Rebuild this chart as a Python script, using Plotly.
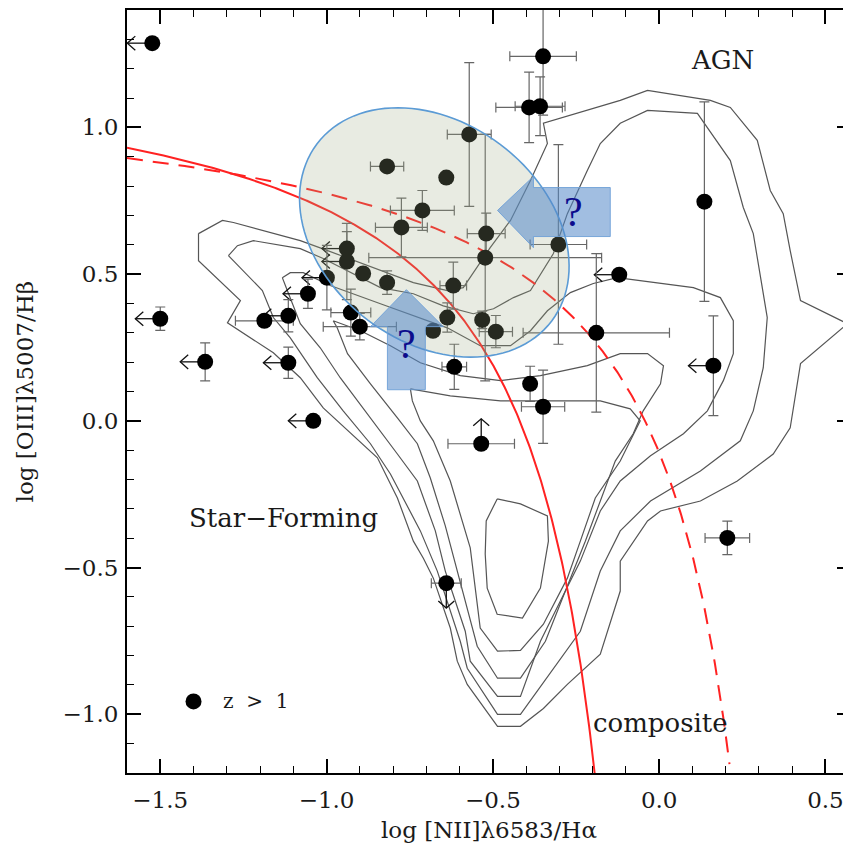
import numpy as np
import plotly.graph_objects as go

# ---------------- data ----------------
gal_x = [-1.524, -1.500, -1.365, -1.187, -1.115, -1.115, -1.040, -1.056, -0.999, -0.939,
         -0.939, -0.890, -0.818, -0.927, -0.900, -0.818, -0.775, -0.712, -0.640, -0.571,
         -0.520, -0.523, -0.619, -0.637, -0.680, -0.532, -0.491, -0.303, -0.189, -0.120,
         0.136, 0.163, -0.349, -0.391, -0.358, -0.616, -0.388, -0.349, -0.535, -0.640, 0.205]
gal_y = [1.287, 0.348, 0.201, 0.341, 0.358, 0.198, 0.000, 0.433, 0.488, 0.587,
         0.543, 0.502, 0.471, 0.369, 0.321, 0.867, 0.659, 0.717, 0.829, 0.976,
         0.638, 0.556, 0.461, 0.352, 0.307, 0.344, 0.304, 0.601, 0.300, 0.498,
         0.747, 0.188, 1.242, 1.068, 1.072, 0.184, 0.126, 0.048, -0.078, -0.553, -0.399]
gal_xerr = [0, 0, 0, 0.087, 0, 0, 0, 0, 0, 0,
            0, 0, 0, 0.06, 0.11, 0.05, 0.078, 0.096, 0, 0.066,
            0.057, 0.35, 0.04, 0, 0, 0, 0.05, 0.085, 0.22, 0,
            0, 0, 0.1, 0.1, 0.075, 0.037, 0, 0.065, 0.1, 0.045, 0.067]
gal_yerr = [0, 0.04, 0.065, 0, 0.055, 0.053, 0, 0.05, 0.11, 0.058,
            0.13, 0, 0.04, 0.08, 0.045, 0, 0.1, 0.068, 0, 0.245,
            0.07, 0.42, 0.08, 0.05, 0, 0.03, 0.055, 0.34, 0.27, 0,
            0.34, 0.17, 0.2, 0.12, 0.1, 0.077, 0.06, 0.125, 0, 0, 0.057]
# limit type: L = upper limit in x (arrow left), U = lower limit in y, D = upper limit in y
gal_limit = ["L", "L", "L", "", "L", "L", "L", "L", "L", "L",
             "L", "", "", "", "", "", "", "", "", "",
             "", "", "", "", "", "", "", "", "", "L",
             "", "L", "", "", "", "", "", "", "U", "D", ""]

# SDSS density contours (data units)
contour1_x = [-1.385, -1.313, -1.280, -1.160, -1.079, -1.013, -0.898, -0.739, -0.637, -0.589,
              -0.508, -0.447, -0.387, -0.336, -0.348, -0.117, -0.035, 0.154, 0.214, 0.295,
              0.334, 0.373, 0.394, 0.425, 0.566, 0.425, 0.394, 0.343, 0.235, 0.124,
              0.004, -0.035, -0.117, -0.117, -0.177, -0.276, -0.348, -0.417, -0.486, -0.577,
              -0.607, -0.628, -0.679, -0.709, -0.739, -0.787, -0.847, -0.937, -1.010, -1.079,
              -1.160, -1.298, -1.259, -1.385, -1.385]
contour1_y = [0.638, 0.683, 0.676, 0.638, 0.614, 0.587, 0.539, 0.471, 0.444, 0.454,
              0.590, 0.683, 0.819, 0.945, 1.014, 1.092, 1.126, 1.092, 1.068, 0.956,
              0.785, 0.706, 0.580, 0.410, 0.331, 0.195, -0.024, -0.113, -0.205, -0.273,
              -0.307, -0.341, -0.478, -0.580, -0.795, -0.898, -0.980, -1.041, -1.041, -0.898,
              -0.819, -0.706, -0.536, -0.468, -0.410, -0.263, -0.126, -0.034, 0.044, 0.147,
              0.232, 0.334, 0.410, 0.546, 0.638]
contour2_x = [-1.295, -1.268, -1.220, -1.079, -1.010, -0.838, -0.739, -0.649, -0.559, -0.498,
              -0.438, -0.387, -0.318, -0.276, -0.216, -0.177, -0.117, -0.035, 0.115, 0.214,
              0.253, 0.283, 0.325, 0.313, 0.283, 0.244, 0.124, -0.026, -0.117, -0.177,
              -0.237, -0.312, -0.417, -0.486, -0.577, -0.598, -0.637, -0.667, -0.718, -0.808,
              -0.868, -0.950, -1.028, -1.109, -1.160, -1.193, -1.295]
contour2_y = [0.563, 0.597, 0.614, 0.587, 0.553, 0.454, 0.433, 0.392, 0.365, 0.382,
              0.420, 0.444, 0.570, 0.706, 0.853, 0.945, 1.014, 1.058, 1.048, 0.887,
              0.727, 0.638, 0.352, 0.181, 0.034, -0.068, -0.171, -0.273, -0.375, -0.512,
              -0.717, -0.836, -1.000, -1.000, -0.843, -0.751, -0.614, -0.512, -0.375, -0.181,
              -0.078, 0.034, 0.147, 0.283, 0.352, 0.444, 0.563]
contour3_x = [-1.133, -1.109, -1.070, -0.989, -0.838, -0.637, -0.538, -0.447, -0.387, -0.336,
              -0.267, -0.198, -0.126, 0.103, 0.184, 0.223, 0.223, 0.193, 0.145, 0.073,
              -0.026, -0.117, -0.177, -0.237, -0.297, -0.357, -0.417, -0.486, -0.568, -0.583,
              -0.613, -0.643, -0.673, -0.727, -0.787, -0.868, -0.959, -1.019, -1.079, -1.118, -1.133]
contour3_y = [0.488, 0.505, 0.505, 0.461, 0.399, 0.317, 0.256, 0.256, 0.307, 0.375,
              0.437, 0.468, 0.488, 0.454, 0.420, 0.341, 0.229, 0.137, 0.034, -0.044,
              -0.119, -0.205, -0.307, -0.478, -0.614, -0.751, -0.939, -0.939, -0.819, -0.717,
              -0.614, -0.512, -0.375, -0.205, -0.113, 0.010, 0.147, 0.249, 0.331, 0.444, 0.488]
contour4_x = [-0.980, -0.898, -0.808, -0.718, -0.598, -0.477, -0.357, -0.216, -0.117, -0.035,
              0.013, 0.004, -0.048, -0.078, -0.132, -0.177, -0.222, -0.282, -0.342, -0.417,
              -0.486, -0.547, -0.583, -0.613, -0.643, -0.688, -0.727, -0.787, -0.868, -0.937,
              -0.968, -0.980]
contour4_y = [0.341, 0.307, 0.256, 0.198, 0.154, 0.137, 0.154, 0.188, 0.229, 0.229,
              0.188, 0.126, 0.034, -0.044, -0.137, -0.273, -0.410, -0.580, -0.751, -0.877,
              -0.877, -0.768, -0.614, -0.478, -0.358, -0.195, -0.078, 0.010, 0.126, 0.229,
              0.317, 0.341]
contour5_x = [-0.748, -0.628, -0.477, -0.327, -0.177, -0.087, -0.057, -0.117, -0.192, -0.237,
              -0.276, -0.348, -0.417, -0.486, -0.538, -0.568, -0.628, -0.679, -0.718, -0.742, -0.748]
contour5_y = [0.109, 0.085, 0.068, 0.068, 0.068, 0.041, 0.000, -0.137, -0.263, -0.410,
              -0.536, -0.693, -0.782, -0.785, -0.706, -0.433, -0.205, -0.068, 0.000, 0.068, 0.109]
contour6_x = [-0.487, -0.417, -0.336, -0.333, -0.357, -0.411, -0.487, -0.517, -0.523, -0.520, -0.487]
contour6_y = [-0.266, -0.283, -0.324, -0.410, -0.570, -0.672, -0.659, -0.570, -0.454, -0.341, -0.266]
contours = [(contour1_x, contour1_y), (contour2_x, contour2_y), (contour3_x, contour3_y),
            (contour4_x, contour4_y), (contour5_x, contour5_y), (contour6_x, contour6_y)]

# Demarcation curves (Kauffmann et al. 2003 solid, Kewley et al. 2001 dashed)
KAUFF = dict(a=0.61, b=0.05, c=1.30, x_end=-0.194)
KEWLEY = dict(a=0.61, b=0.47, c=1.19, x_end=0.2115)

x_ticks = [-1.5, -1.0, -0.5, 0.0, 0.5]
y_ticks = [-1.0, -0.5, 0.0, 0.5, 1.0]
X_RANGE = [-1.6, 0.5768]
Y_RANGE = [-1.2, 1.4]

SERIF = "DejaVu Serif"

fig = go.Figure()

# contours
for cx, cy in contours:
    fig.add_trace(go.Scatter(x=cx, y=cy, mode="lines",
                             line=dict(color="#555555", width=1.2),
                             hoverinfo="skip", showlegend=False))

# demarcation lines
for par, dash in ((KAUFF, "solid"), (KEWLEY, "16px,10px")):
    xs = np.linspace(X_RANGE[0], par["x_end"], 500)
    ys = par["a"] / (xs - par["b"]) + par["c"]
    fig.add_trace(go.Scatter(x=xs, y=ys, mode="lines",
                             line=dict(color="#ff2222", width=2, dash=dash),
                             hoverinfo="skip", showlegend=False))

# limit arrows
LX, LY = 0.075, 0.085
CH = 0.024
ax_, ay_ = [], []
for x, y, lim in zip(gal_x, gal_y, gal_limit):
    if lim == "L":
        tx, ty = x - LX, y
        ax_ += [x, tx, None, tx + CH, tx, tx + CH, None]
        ay_ += [y, ty, None, ty + CH, ty, ty - CH, None]
    elif lim == "U":
        tx, ty = x, y + LY
        ax_ += [x, tx, None, tx - CH, tx, tx + CH, None]
        ay_ += [y, ty, None, ty - CH, ty, ty - CH, None]
    elif lim == "D":
        tx, ty = x, y - LY
        ax_ += [x, tx, None, tx - CH, tx, tx + CH, None]
        ay_ += [y, ty, None, ty + CH, ty, ty + CH, None]
fig.add_trace(go.Scatter(x=ax_, y=ay_, mode="lines",
                         line=dict(color="#111111", width=1.3),
                         hoverinfo="skip", showlegend=False))

# galaxies
fig.add_trace(go.Scatter(
    x=gal_x, y=gal_y, mode="markers",
    marker=dict(color="black", size=16, line=dict(width=0)),
    error_x=dict(type="data", array=gal_xerr, visible=True, color="#666666", thickness=1.2, width=5),
    error_y=dict(type="data", array=gal_yerr, visible=True, color="#666666", thickness=1.2, width=5),
    showlegend=False))

# legend symbol
fig.add_trace(go.Scatter(x=[-1.400], y=[-0.956], mode="markers",
                         marker=dict(color="black", size=16), showlegend=False))

# ---------------- decorations ----------------
PLOT_W, PLOT_H = 724, 763
PXX = PLOT_W / (X_RANGE[1] - X_RANGE[0])
PXY = PLOT_H / (Y_RANGE[1] - Y_RANGE[0])
ell_c = (-0.676, 0.642)
ell_a, ell_b, ell_th = 147.0, 110.0, np.deg2rad(37)
t = np.linspace(0, 2 * np.pi, 121)
dxp = ell_a * np.cos(t) * np.cos(ell_th) - ell_b * np.sin(t) * np.sin(ell_th)
dyp = ell_a * np.cos(t) * np.sin(ell_th) + ell_b * np.sin(t) * np.cos(ell_th)
ex = ell_c[0] + dxp / PXX
ey = ell_c[1] - dyp / PXY
ell_path = "M " + " L ".join(f"{a:.4f},{b:.4f}" for a, b in zip(ex, ey)) + " Z"
fig.add_shape(type="path", path=ell_path, xref="x", yref="y", layer="above",
              fillcolor="rgba(160,170,135,0.24)", line=dict(color="#5b9bd5", width=1.6))

arrow_left = [(-0.486, 0.717), (-0.378, 0.833), (-0.378, 0.795), (-0.147, 0.795),
              (-0.147, 0.628), (-0.378, 0.628), (-0.378, 0.590)]
arrow_up = [(-0.760, 0.447), (-0.649, 0.321), (-0.703, 0.321), (-0.703, 0.106),
            (-0.817, 0.106), (-0.817, 0.321), (-0.868, 0.321)]
for poly in (arrow_left, arrow_up):
    p = "M " + " L ".join(f"{a},{b}" for a, b in poly) + " Z"
    fig.add_shape(type="path", path=p, xref="x", yref="y", layer="above",
                  fillcolor="rgba(84,136,200,0.55)", line=dict(color="rgba(110,160,215,0.9)", width=1))

ann = []
for (qx, qy) in ((-0.258, 0.712), (-0.760, 0.262)):
    ann.append(dict(x=qx, y=qy, xref="x", yref="y", text="?", showarrow=False,
                    font=dict(family="Liberation Serif", size=42, color="#0c0c8c")))
labels = [("AGN", 0.190, 1.229, "center"), ("Star\u2212Forming", -1.129, -0.331, "center"),
          ("composite", 0.004, -1.031, "center"), ("z  >  1", -1.318, -0.956, "left")]
for txt, lx, ly, xa in labels:
    ann.append(dict(x=lx, y=ly, xref="x", yref="y", text=txt, showarrow=False, xanchor=xa,
                    yanchor="middle",
                    font=dict(family=SERIF, size=26 if txt != "z  >  1" else 20, color="#1a1a1a")))
ann.append(dict(x=0.5, y=-0.0747, xref="paper", yref="paper", showarrow=False,
                xanchor="center", yanchor="middle",
                text="log [NII]\u03bb6583/H\u03b1", font=dict(family=SERIF, size=23, color="#1a1a1a")))
ann.append(dict(x=-0.141, y=0.5, xref="paper", yref="paper", showarrow=False, textangle=-90,
                xanchor="center", yanchor="middle",
                text="log [OIII]\u03bb5007/H\u03b2", font=dict(family=SERIF, size=23, color="#1a1a1a")))

axis_common = dict(showgrid=False, zeroline=False, showline=True, linecolor="black", linewidth=2,
                   mirror="allticks", ticks="inside", ticklen=14, tickwidth=1.6, tickcolor="black",
                   automargin=False,
                   tickfont=dict(family=SERIF, size=23, color="#1a1a1a"), tickformat=".1f",
                   minor=dict(ticks="inside", ticklen=7, tickwidth=1.4, tickcolor="black", dtick=0.1))
# page body has an 8px default margin: the figure is sized/placed to compensate
fig.update_layout(
    width=843, height=842,
    margin=dict(l=119, r=0, t=2, b=77),
    paper_bgcolor="white", plot_bgcolor="white",
    xaxis=dict(range=X_RANGE, tickvals=x_ticks, ticklabelstandoff=5, **axis_common),
    yaxis=dict(range=Y_RANGE, tickvals=y_ticks, ticklabelstandoff=2, **axis_common),
    annotations=ann,
)
fig.write_html("out.html")
